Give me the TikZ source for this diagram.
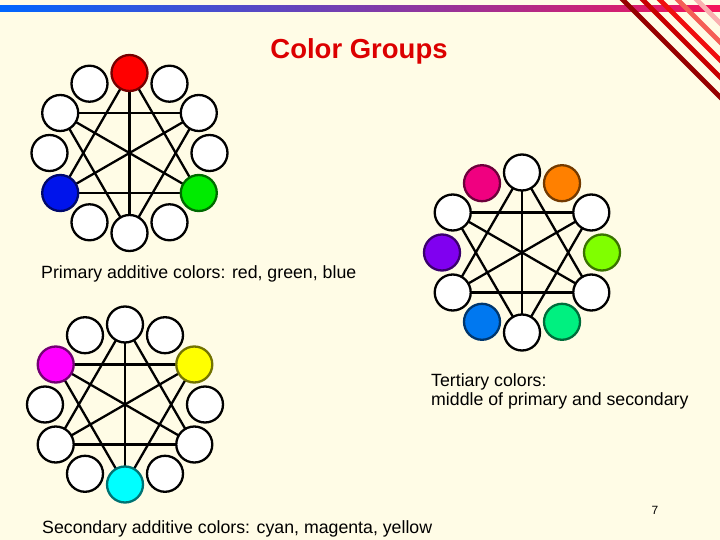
\documentclass[tikz,border=0pt]{standalone}
\usepackage{fontspec}
\setmainfont{Liberation Sans}
\usetikzlibrary{calc}
\pgfdeclarelayer{bottom}
\pgfdeclarelayer{background}
\pgfsetlayers{bottom,background,main}
\definecolor{bg}{RGB}{255,252,230}
\definecolor{barL}{RGB}{0,102,255}
\definecolor{barM}{RGB}{185,80,185}
\definecolor{barR}{RGB}{245,20,90}
\definecolor{s1}{RGB}{150,0,0}
\definecolor{s2}{RGB}{200,0,0}
\definecolor{s3}{RGB}{240,15,15}
\definecolor{s4}{RGB}{245,95,85}
\definecolor{s5}{RGB}{250,175,175}
\definecolor{cred}{RGB}{255,0,0}
\definecolor{cgreen}{RGB}{0,235,0}
\definecolor{cblue}{RGB}{0,20,235}
\definecolor{ccyan}{RGB}{0,255,255}
\definecolor{cmag}{RGB}{255,0,255}
\definecolor{cyel}{RGB}{255,255,0}
\definecolor{corange}{RGB}{255,128,0}
\definecolor{crose}{RGB}{240,0,128}
\definecolor{cviolet}{RGB}{128,0,240}
\definecolor{cazure}{RGB}{0,120,240}
\definecolor{cspring}{RGB}{0,240,128}
\definecolor{cchart}{RGB}{128,255,0}
\definecolor{titlered}{RGB}{220,0,0}
\begin{document}
\begin{tikzpicture}[x=1bp,y=-1bp,
  disc/.style={circle,line width=2.3bp,minimum size=36bp,inner sep=0pt},
  spoke/.style={line width=2.3bp,black},
  lbl/.style={inner sep=0pt,anchor=base west,font=\fontsize{17.8}{20}\selectfont}]
\useasboundingbox (0,0) rectangle (720,540);
\begin{pgfonlayer}{bottom}
\fill[bg] (0,0) rectangle (720,540);
\end{pgfonlayer}
% top bar
\shade[left color=barL, middle color=barM, right color=barR] (0,6) rectangle (720,12);
% stripes
\begin{scope}
\clip (0,0) rectangle (720,540);
\foreach \x/\c in {623/s1,643/s2,660/s3,678/s4,697/s5}
  \draw[\c,line width=4.8bp] (\x-6,-6) -- (\x+120,120);
\end{scope}
% wheel centers
\coordinate (ac) at (129.5,153);
\coordinate (bc) at (522,252.5);
\coordinate (cc) at (125,404.5);
% wheel a: primary
\foreach \k/\f/\d in {0/white/black,1/white/black,2/white/black,3/cred/cred!45!black,
  4/white/black,5/white/black,6/white/black,7/cblue/cblue!45!black,8/white/black,
  9/white/black,10/white/black,11/cgreen/cgreen!45!black}
  \node[disc,fill=\f,draw=\d] (a\k) at ($(ac)+(-\k*30:80)$) {};
% wheel b: tertiary
\foreach \k/\f/\d in {0/cchart/cchart!45!black,1/white/black,2/corange/corange!45!black,
  3/white/black,4/crose/crose!45!black,5/white/black,6/cviolet/cviolet!45!black,
  7/white/black,8/cazure/cazure!45!black,9/white/black,10/cspring/cspring!45!black,
  11/white/black}
  \node[disc,fill=\f,draw=\d] (b\k) at ($(bc)+(-\k*30:80)$) {};
% wheel c: secondary
\foreach \k/\f/\d in {0/white/black,1/cyel/cyel!45!black,2/white/black,3/white/black,
  4/white/black,5/cmag/cmag!45!black,6/white/black,7/white/black,8/white/black,
  9/ccyan/ccyan!45!black,10/white/black,11/white/black}
  \node[disc,fill=\f,draw=\d] (c\k) at ($(cc)+(-\k*30:80)$) {};
% connectors
\begin{pgfonlayer}{background}
\foreach \w in {a,b,c}
  \foreach \i/\j in {3/7,7/11,11/3,1/5,5/9,9/1,3/9,1/7,5/11}
    \draw[spoke] (\w\i.center) -- (\w\j.center);
\end{pgfonlayer}
% texts
\node[inner sep=0pt,anchor=base,text=titlered,font=\fontsize{27.6}{30}\selectfont\bfseries] (title) at (359,58.5) {Color Groups};
\node[lbl] (prim) at (41,278.7) {Primary additive colors: red, green, blue};
\node[lbl] (ter1) at (431,386) {Tertiary colors:};
\node[lbl] (ter2) at (431,405.5) {middle of primary and secondary};
\node[lbl] (sec) at (42,533) {Secondary additive colors: cyan, magenta, yellow};
\node[inner sep=0pt,anchor=base,font=\fontsize{12}{14}\selectfont] (pg) at (655,514.5) {7};
\end{tikzpicture}
\end{document}
